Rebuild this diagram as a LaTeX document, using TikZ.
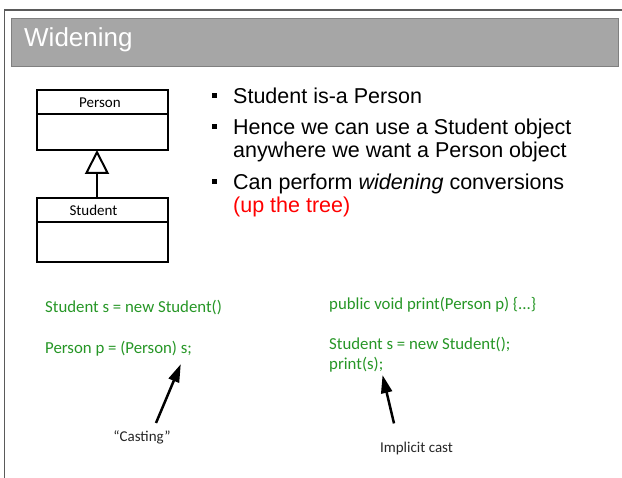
\documentclass[tikz,border=0pt]{standalone}
\usepackage{fontspec}
\setmainfont{Liberation Sans}
\newfontfamily\codefont{Carlito}
\usetikzlibrary{arrows.meta}
\definecolor{barfill}{RGB}{166,166,166}
\definecolor{barline}{RGB}{128,128,128}
\definecolor{framegray}{RGB}{90,90,90}
\definecolor{codegreen}{RGB}{38,150,38}
\tikzset{
  slidetext/.style={anchor=base west, inner sep=0pt, font=\fontsize{21.5}{23}\selectfont},
  bulletsq/.style={fill=black, draw=none, minimum size=5pt, inner sep=0pt},
  code/.style={anchor=base west, inner sep=0pt, text=codegreen, font=\codefont\fontsize{16.8}{20}\selectfont},
  note/.style={anchor=base, inner sep=0pt, text=black!85, font=\codefont\fontsize{15}{18}\selectfont},
  umlbox/.style={draw=black, line width=2pt, inner sep=0pt, minimum width=131pt},
  umlname/.style={inner sep=0pt, font=\codefont\fontsize{15}{18}\selectfont},
  pointer/.style={line width=2.5pt, -{Triangle[length=18pt,width=11pt]}, shorten >=-2pt},
  inherits/.style={line width=2pt, -{Triangle[open,length=24pt,width=24pt,line width=2pt]}}
}
\begin{document}
\begin{tikzpicture}[x=1pt,y=-1pt]
\useasboundingbox (0,0) rectangle (622,478);
% slide frame
\draw[framegray, line width=1.5pt] (622,10) -- (4.5,10) -- (4.5,478);
% title bar
\draw[fill=barfill, draw=barline, line width=1pt] (11,19) rectangle (618,67);
\node[anchor=base west, inner sep=0pt, text=white, font=\fontsize{26}{28}\selectfont] (title) at (24,47) {Widening};

% class diagram
\node[umlbox, minimum height=60pt] (person) at (102.5,120) {};
\draw[line width=2pt] (37,114) -- (168,114);
\node[umlname] (personname) at (100,103) {Person};
\node[umlbox, minimum height=64pt] (student) at (102.5,230) {};
\draw[line width=2pt] (37,222) -- (168,222);
\node[umlname] (studentname) at (93.5,210) {Student};
\draw[inherits] (97,198) -- (97,150);

% bullet points
\node[bulletsq] (b1) at (214.5,95.5) {};
\node[slidetext] (l1) at (233,104) {Student is-a Person};
\node[bulletsq] (b2) at (214.5,126.5) {};
\node[slidetext] (l2) at (233,135) {Hence we can use a Student object};
\node[slidetext] (l3) at (233,158) {anywhere we want a Person object};
\node[bulletsq] (b3) at (214.5,181.5) {};
\node[slidetext] (l4) at (233,190) {Can perform \textit{widening} conversions};
\node[slidetext, text=red] (l5) at (233,213) {(up the tree)};

% left code sample
\node[code] (c1) at (45,313) {Student s = new Student()};
\node[code] (c2) at (45,354) {Person p = (Person) s;};
\node[note] (cast) at (142,442) {“Casting”};
\coordinate (casttip) at (180,366);
\draw[pointer] ([shift={(14pt,8pt)}]cast.north) -- (casttip);

% right code sample
\node[code] (r1) at (329,310) {public void print(Person p) \{...\}};
\node[code] (r2) at (329,350) {Student s = new Student();};
\node[code] (r3) at (329,370) {print(s);};
\node[note] (impl) at (416.5,453) {Implicit cast};
\coordinate (impltip) at (383,377);
\draw[pointer] ([shift={(-22.5pt,19pt)}]impl.north) -- (impltip);
\end{tikzpicture}
\end{document}
